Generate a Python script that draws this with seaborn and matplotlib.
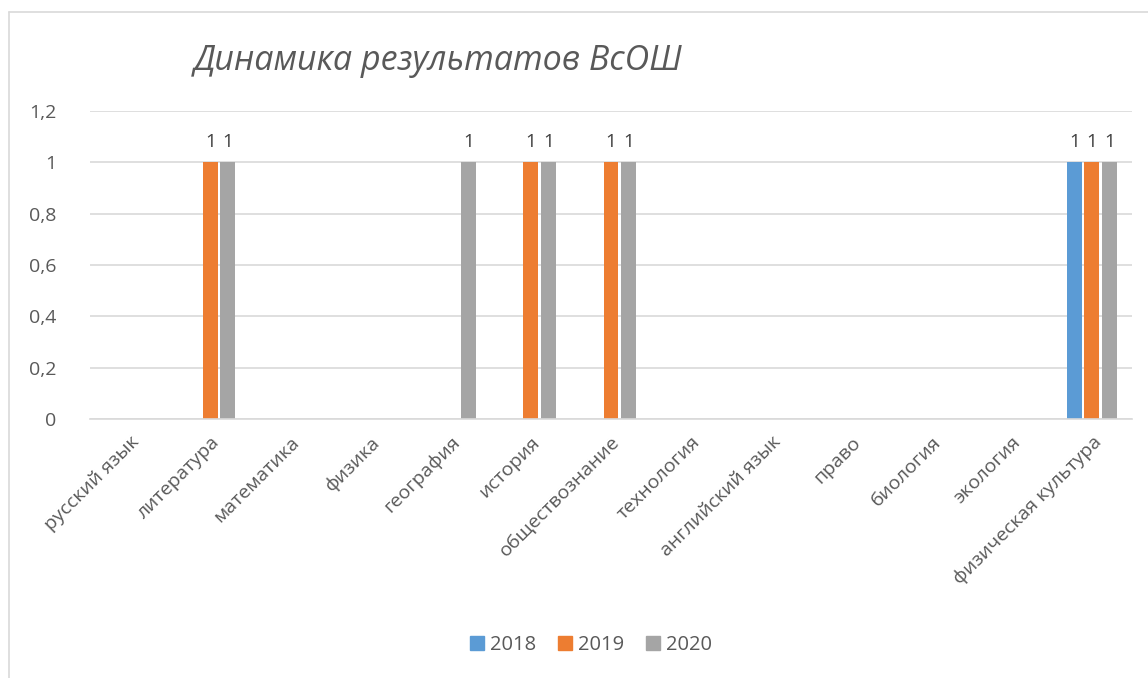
import matplotlib
matplotlib.use("Agg")
import matplotlib.pyplot as plt
from matplotlib.lines import Line2D
from matplotlib.ticker import FuncFormatter
import seaborn as sns
import pandas as pd

# data
subjects = ["русский язык", "литература", "математика", "физика", "география",
            "история", "обществознание", "технология", "английский язык", "право",
            "биология", "экология", "физическая культура"]
years = ["2018", "2019", "2020"]
v2018 = [0, 0, 0, 0, 0, 0, 0, 0, 0, 0, 0, 0, 1]
v2019 = [0, 1, 0, 0, 0, 1, 1, 0, 0, 0, 0, 0, 1]
v2020 = [0, 1, 0, 0, 1, 1, 1, 0, 0, 0, 0, 0, 1]
colors = ["#5B9BD5", "#ED7D31", "#A5A5A5"]

df = pd.DataFrame({"subject": subjects * 3,
                   "year": sum([[y] * len(subjects) for y in years], []),
                   "value": v2018 + v2019 + v2020})

sns.set_style("white")
plt.rcParams["font.family"] = ["Open Sans", "DejaVu Sans"]
text_col = "#595959"

fig = plt.figure(figsize=(11.48, 6.78), dpi=100)
ax = fig.add_axes([90 / 1148, 1 - 419 / 678, (1132 - 90) / 1148, (419 - 111) / 678])

sns.barplot(data=df, x="subject", y="value", hue="year", palette=colors,
            width=0.66, gap=0.15, ax=ax, legend=False, linewidth=0, saturation=1)

for cont in ax.containers:
    labs = ["1" if b.get_height() > 0 else "" for b in cont]
    ax.bar_label(cont, labels=labs, padding=8, fontsize=13.5, color="#404040")

ax.set_ylim(0, 1.2)
ax.set_yticks([0, 0.2, 0.4, 0.6, 0.8, 1.0, 1.2])
ax.yaxis.set_major_formatter(FuncFormatter(lambda v, p: ("%g" % round(v, 1)).replace(".", ",")))
ax.grid(axis="y", color="#D9D9D9", linewidth=1.2)
ax.set_axisbelow(True)
for s in ["top", "right", "left"]:
    ax.spines[s].set_visible(False)
ax.spines["bottom"].set_color("#D9D9D9")
ax.spines["bottom"].set_linewidth(1.2)
ax.tick_params(length=0, labelsize=14, labelcolor=text_col, pad=10)
ax.tick_params(axis="y", pad=24)
plt.setp(ax.get_xticklabels(), rotation=45, ha="right", rotation_mode="anchor")
ax.set_xlabel("")
ax.set_ylabel("")

fig.text(438 / 1148, 1 - 61 / 678, "Динамика результатов ВсОШ", fontsize=24.5,
         style="italic", color=text_col, ha="center", va="center")

handles = [Line2D([], [], marker="s", linestyle="", markersize=10,
                  markerfacecolor=c, markeredgecolor=c) for c in colors]
fig.legend(handles, years, loc="center", bbox_to_anchor=(590 / 1148, 1 - 645 / 678),
           ncol=3, frameon=False, fontsize=14.5, labelcolor=text_col,
           handlelength=0.9, handletextpad=0.2, columnspacing=1.0)

# chart border
fig.add_artist(Line2D([9 / 1148, 9 / 1148], [0, 1 - 12 / 678], color="#D9D9D9", lw=1.2))
fig.add_artist(Line2D([9 / 1148, 1], [1 - 12 / 678, 1 - 12 / 678], color="#D9D9D9", lw=1.2))

fig.savefig("out.png", dpi=100)
